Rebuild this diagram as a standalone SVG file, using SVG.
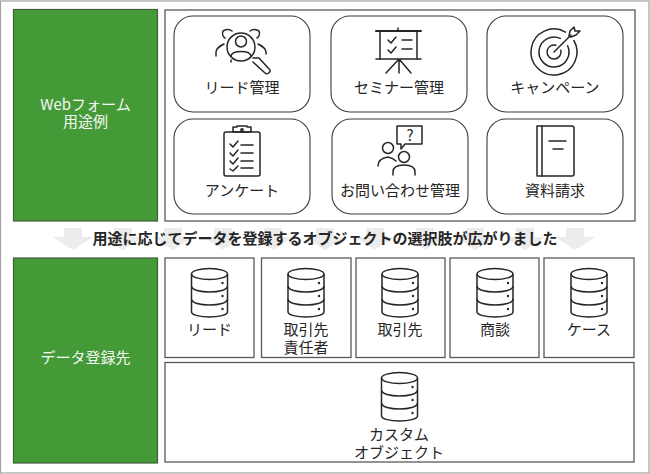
<svg xmlns="http://www.w3.org/2000/svg" width="650" height="474" viewBox="0 0 650 474">
<style>
text{font-family:"Noto Sans CJK JP","Noto Sans",sans-serif;font-size:15px;fill:#262626;text-anchor:middle}
.g{fill:#459a38;stroke:#3f5f38;stroke-width:1.2}
.p{fill:#fff;stroke:#595959;stroke-width:1.3}
.c{fill:#fff;stroke:#3a3a3a;stroke-width:1.1}
.i{fill:none;stroke:#262626;stroke-width:1.5;stroke-linecap:round;stroke-linejoin:round}
text.w{fill:#f4f8f2}
.a{fill:#ececec}
</style>
<defs>
<g id="db" fill="none" stroke="#262626" stroke-width="1.5">
<ellipse cx="0" cy="6" rx="18" ry="5.5"/>
<path d="M-18 6V44C-18 47 -9 49 0 49S18 47 18 44V6"/>
<path d="M-18 18C-18 22 -9 24 0 24S18 22 18 18"/>
<path d="M-18 31C-18 35 -9 37 0 37S18 35 18 31"/>
<circle cx="13" cy="15" r="1.2" fill="#262626" stroke="none"/>
<circle cx="13" cy="28" r="1.2" fill="#262626" stroke="none"/>
<circle cx="13" cy="41" r="1.2" fill="#262626" stroke="none"/>
</g>
<path id="arr" d="M-9 228H9V237H20L0 250L-20 237H-9Z"/>
</defs>
<rect x="0.5" y="1" width="648.5" height="472" fill="#fff" stroke="#a0a0a0" stroke-width="1.2"/>

<g id="arrows" class="a">
<use href="#arr" x="73"/><use href="#arr" x="123"/><use href="#arr" x="173"/><use href="#arr" x="223"/><use href="#arr" x="273"/><use href="#arr" x="325"/><use href="#arr" x="375"/><use href="#arr" x="425"/><use href="#arr" x="475"/><use href="#arr" x="525"/><use href="#arr" x="575"/>
</g>
<text id="banner" x="325" y="244" style="font-weight:700">用途に応じてデータを登録するオブジェクトの選択肢が広がりました</text>

<g id="form-head">
<rect class="g" x="13.500" y="9.500" width="144" height="211.500"/>
<text class="w" x="85.500" y="110">Webフォーム<tspan x="85.500" dy="17">用途例</tspan></text>
</g>
<rect id="form-panel" class="p" x="165" y="10" width="470" height="211"/>

<g id="lead">
<rect class="c" x="174" y="16" width="136" height="96" rx="19"/>
<g class="i">
<circle cx="241" cy="47" r="14"/><circle cx="241" cy="41.500" r="5.500"/>
<path d="M231 56C232 50 250 50 251 56"/>
<path d="M232 31C228 28 225 30 223 31C222 34 223 37 225 38M250 31C254 28 257 30 259 31C260 34 259 37 257 38"/>
<path d="M216 56V52C216 48 220 46 224 44M266 54V52C266 48 262 46 258 44M231 62V60"/>
<path d="M253 58L259 58L270 70C271 72 267 75 265 73L253 62"/>
</g>
<text x="242" y="93">リード管理</text>
</g>

<g id="seminar">
<rect class="c" x="331" y="16" width="136" height="96" rx="19"/>
<g class="i">
<path d="M376 31H421" stroke-width="2"/><path d="M398 31V28M380 31V59M417 31V59"/>
<path d="M376 59H421M399 59L386 73M399 59L411 73M399 59V73"/>
<path d="M388 40L391 43L396 37M388 50L391 53L396 47M402 40H412M402 49H412"/>
</g>
<text x="399" y="93">セミナー管理</text>
</g>

<g id="campaign">
<rect class="c" x="487" y="16" width="136" height="96" rx="19"/>
<g class="i">
<path d="M565.500 32.100A23 23 0 1 0 573.900 40.500"/>
<path d="M560.300 38.400A15 15 0 1 0 567.600 45.700"/>
<path d="M555.800 45.200A7 7 0 1 0 560.800 50.200"/>
<path d="M554 52L571 35"/>
<path d="M569 36L570 31L574 27L575 31L580 31L576 35L571 37Z"/>
</g>
<text x="555" y="93">キャンペーン</text>
</g>

<g id="survey">
<rect class="c" x="174" y="119" width="136" height="95" rx="19"/>
<g class="i">
<rect x="224" y="132" width="36" height="44" rx="2"/>
<path d="M233 132V127H237V126H247V127H251V132H233Z"/>
<circle cx="242" cy="130" r="1.200"/>
<path d="M230 144L233 147L238 141M230 153L233 156L238 150M230 161L233 164L238 158M230 169L233 171L238 166M241 145H253M241 153H253M241 161H253M241 168H253"/>
</g>
<text x="242" y="196">アンケート</text>
</g>

<g id="contact">
<rect class="c" x="332" y="119" width="136" height="95" rx="19"/>
<g class="i">
<path d="M397 126H422V144H405L401 149V144H397Z"/>
<circle cx="388" cy="148" r="5.500"/>
<circle cx="404" cy="157" r="5.500"/>
<path d="M378 166C378 160 382 158 388 157C392 158 394 159 396 161"/>
<path d="M393 175V172C393 167 398 165 404 165C410 165 415 167 415 172V175"/>
</g>
<text x="410" y="141">?</text>
<text x="400" y="196">お問い合わせ管理</text>
</g>

<g id="material">
<rect class="c" x="487" y="119" width="136" height="95" rx="19"/>
<g class="i">
<path d="M537 126H572C573 126 574 127 574 128V174C574 175 573 176 572 176H537Z"/>
<path d="M542 126V176"/>
<path d="M549 141H566M553 149H563"/>
</g>
<text x="555" y="196">資料請求</text>
</g>

<g id="dest-head">
<rect class="g" x="13.500" y="258" width="144" height="205"/>
<text class="w" x="85.500" y="363">データ登録先</text>
</g>

<g id="t-lead">
<rect class="p" x="165" y="258" width="89" height="99.500"/>
<use href="#db" x="209.500" y="268"/>
<text x="209.500" y="335">リード</text>
</g>
<g id="t-contact">
<rect class="p" x="261.500" y="258" width="89.500" height="99.500"/>
<use href="#db" x="306" y="268"/>
<text x="306" y="335">取引先<tspan x="306" dy="18">責任者</tspan></text>
</g>
<g id="t-account">
<rect class="p" x="356" y="258" width="89" height="99.500"/>
<use href="#db" x="400" y="268"/>
<text x="400" y="335">取引先</text>
</g>
<g id="t-deal">
<rect class="p" x="450" y="258" width="89" height="99.500"/>
<use href="#db" x="495" y="268"/>
<text x="495" y="335">商談</text>
</g>
<g id="t-case">
<rect class="p" x="544" y="258" width="90" height="99.500"/>
<use href="#db" x="589" y="268"/>
<text x="589" y="335">ケース</text>
</g>
<g id="t-custom">
<rect class="p" x="165" y="362.500" width="469" height="99.500"/>
<use href="#db" x="399.500" y="372"/>
<text x="399" y="440">カスタム<tspan x="399" dy="17.500">オブジェクト</tspan></text>
</g>
</svg>
